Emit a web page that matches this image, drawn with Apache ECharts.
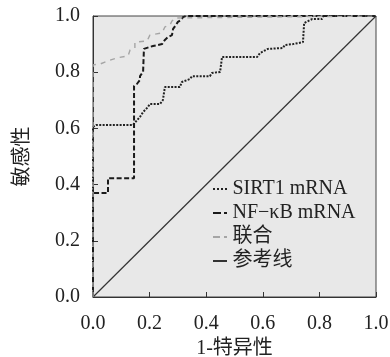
<!DOCTYPE html>
<html>
<head>
<meta charset="utf-8">
<script src="https://cdn.jsdelivr.net/npm/echarts@6/dist/echarts.min.js"></script>
<style>
  html, body { margin: 0; padding: 0; background: #fff; }
  #chart { width: 390px; height: 357px; }
</style>
</head>
<body>
<div id="chart"></div>
<script>
// ROC points: [1 - specificity, sensitivity]
const sirt1Points = [
  [0, 0], [0, 0.605], [0.011, 0.612], [0.141, 0.612], [0.166, 0.641],
  [0.177, 0.658], [0.194, 0.676], [0.201, 0.687], [0.237, 0.687], [0.247, 0.701],
  [0.254, 0.747], [0.307, 0.747], [0.314, 0.765], [0.343, 0.776], [0.35, 0.786],
  [0.413, 0.786], [0.42, 0.797], [0.449, 0.801], [0.456, 0.854], [0.58, 0.854],
  [0.59, 0.868], [0.618, 0.883], [0.671, 0.886], [0.678, 0.897], [0.707, 0.9],
  [0.714, 0.904], [0.742, 0.907], [0.746, 0.975], [0.76, 0.982], [0.774, 0.989],
  [0.809, 0.989], [0.813, 1], [1, 1]
];
const nfkbPoints = [
  [0, 0], [0, 0.37], [0.053, 0.37], [0.053, 0.423], [0.145, 0.423],
  [0.145, 0.751], [0.155, 0.758], [0.166, 0.772], [0.166, 0.786], [0.177, 0.801],
  [0.18, 0.883], [0.201, 0.89], [0.212, 0.893], [0.244, 0.9], [0.254, 0.915],
  [0.265, 0.925], [0.279, 0.932], [0.283, 0.954], [0.293, 0.968], [0.3, 0.979],
  [0.311, 0.986], [0.318, 0.996], [0.329, 1], [1, 1]
];
const combinedPoints = [
  [0, 0], [0, 0.826], [0.025, 0.829], [0.042, 0.836], [0.06, 0.843],
  [0.085, 0.851], [0.124, 0.858], [0.131, 0.879], [0.148, 0.886], [0.148, 0.907],
  [0.191, 0.911], [0.201, 0.932], [0.244, 0.94], [0.254, 0.961], [0.272, 0.968],
  [0.279, 0.982], [0.29, 0.993], [0.297, 1], [1, 1]
];
const referencePoints = [[0, 0], [1, 1]];
const seriesNames = ["SIRT1 mRNA", "NF\u2212\u03baB mRNA", "联合", "参考线"];

const fontFamily = "'Liberation Serif', 'Noto Sans CJK SC', serif";
const textColor = "#222";

// small legend glyphs: dotted, dash-dot, dash-dot, solid
const legendIcons = [
  "path://M0,0h2v2h-2z M4,0h2v2h-2z M8,0h2v2h-2z M12,0h2v2h-2z",
  "path://M0,0h8v2h-8z M11,0h3v2h-3z",
  "path://M0,0h7v2h-7z M11,0h3v2h-3z",
  "path://M0,0h14v2h-14z",
];

const chart = echarts.init(document.getElementById("chart"));

const axisCommon = {
  type: "value",
  min: 0,
  max: 1,
  interval: 0.2,
  nameLocation: "middle",
  nameTextStyle: { fontFamily, fontSize: 20, color: textColor },
  axisLine: { show: true, lineStyle: { color: "#333", width: 1 } },
  axisTick: { show: true, inside: true, length: 5, lineStyle: { color: "#333" } },
  axisLabel: {
    fontFamily,
    fontSize: 20,
    color: textColor,
    formatter: (v) => v.toFixed(1),
  },
  splitLine: { show: false },
};

const option = {
  animation: false,
  grid: {
    left: 93,
    right: 14,
    top: 16,
    bottom: 60,
    outerBoundsMode: "none",
    show: true,
    backgroundColor: "#e8e8e8",
    borderColor: "#444",
    borderWidth: 1,
  },
  xAxis: {
    ...axisCommon,
    name: "1-特异性",
    nameGap: 41,
    axisLabel: { ...axisCommon.axisLabel, margin: 17 },
  },
  yAxis: {
    ...axisCommon,
    name: "敏感性",
    nameGap: 60,
    nameRotate: 90,
    axisLabel: { ...axisCommon.axisLabel, margin: 13 },
  },
  legend: {
    orient: "vertical",
    left: 208,
    top: 174,
    itemWidth: 15,
    itemHeight: 2,
    itemGap: 4,
    textStyle: { fontFamily, fontSize: 20, color: textColor },
    data: seriesNames.map((name, i) => ({ name, icon: legendIcons[i] })),
  },
  series: [
    {
      name: seriesNames[0],
      type: "line",
      data: sirt1Points,
      symbol: "none",
      color: "#222",
      lineStyle: { color: "#222", width: 2, type: [2, 1.4] },
      z: 3,
    },
    {
      name: seriesNames[1],
      type: "line",
      data: nfkbPoints,
      symbol: "none",
      color: "#1a1a1a",
      lineStyle: { color: "#1a1a1a", width: 2, type: [5, 2.5] },
      z: 4,
    },
    {
      name: seriesNames[2],
      type: "line",
      data: combinedPoints,
      symbol: "none",
      color: "#a5a5a5",
      lineStyle: { color: "#a5a5a5", width: 1.4, type: [5, 5] },
      z: 5,
    },
    {
      name: seriesNames[3],
      type: "line",
      data: referencePoints,
      symbol: "none",
      color: "#333",
      lineStyle: { color: "#333", width: 1.2, type: "solid" },
      z: 2,
    },
  ],
};

chart.setOption(option);
</script>
</body>
</html>
